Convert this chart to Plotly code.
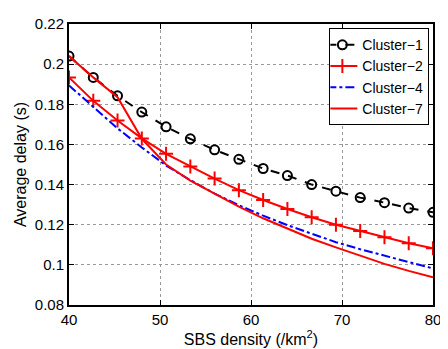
import plotly.graph_objects as go

x = [40 + i * 40 / 15 for i in range(16)]

cluster1 = [0.2040, 0.1934, 0.1842, 0.1761, 0.1688, 0.1628, 0.1573, 0.1526,
            0.1480, 0.1445, 0.1400, 0.1367, 0.1335, 0.1310, 0.1283, 0.1262]
cluster2 = [0.1934, 0.1817, 0.1719, 0.1630, 0.1553, 0.1490, 0.1430, 0.1372,
            0.1323, 0.1278, 0.1237, 0.1200, 0.1169, 0.1137, 0.1108, 0.1083]
cluster4 = [0.1894, 0.1785, 0.1680, 0.1585, 0.1495, 0.1422, 0.1355, 0.1297,
            0.1245, 0.1198, 0.1155, 0.1113, 0.1078, 0.1045, 0.1012, 0.0982]
cluster7 = [0.2040, 0.1934, 0.1835, 0.1628, 0.1500, 0.1420, 0.1355, 0.1290,
            0.1232, 0.1180, 0.1130, 0.1087, 0.1045, 0.1005, 0.0970, 0.0938]

x_ticks = [40, 50, 60, 70, 80]
y_ticks = [0.08, 0.10, 0.12, 0.14, 0.16, 0.18, 0.20, 0.22]
y_tick_labels = ["0.08", "0.1", "0.12", "0.14", "0.16", "0.18", "0.2", "0.22"]

fig = go.Figure()
fig.add_trace(go.Scatter(
    x=x, y=cluster1, name="Cluster\u22121", mode="lines+markers",
    line=dict(color="black", width=2, dash="dash"),
    marker=dict(symbol="circle-open", size=9, color="black", line=dict(width=2))))
fig.add_trace(go.Scatter(
    x=x, y=cluster2, name="Cluster\u22122", mode="lines+markers",
    line=dict(color="#ff0000", width=2),
    marker=dict(symbol="cross-thin", size=10, color="#ff0000", line=dict(width=2, color="#ff0000"))))
fig.add_trace(go.Scatter(
    x=x, y=cluster4, name="Cluster\u22124", mode="lines",
    line=dict(color="#0000ff", width=2, dash="dashdot")))
fig.add_trace(go.Scatter(
    x=x, y=cluster7, name="Cluster\u22127", mode="lines",
    line=dict(color="#ff0000", width=2)))

axis_common = dict(
    showline=True, linecolor="black", linewidth=2, mirror="ticks",
    ticks="inside", ticklen=5, tickcolor="black", tickwidth=1,
    showgrid=True, gridcolor="#999999", griddash="dot", gridwidth=1,
    zeroline=False, tickfont=dict(size=15, color="black"),
)

fig.update_xaxes(range=[40, 80], tickvals=x_ticks,
                 title=dict(text="SBS density (/km<sup>2</sup>)", font=dict(size=16, color="black"), standoff=2),
                 **axis_common)
fig.update_yaxes(range=[0.08, 0.22], tickvals=y_ticks, ticktext=y_tick_labels,
                 title=dict(text="Average delay (s)", font=dict(size=16, color="black"), standoff=4),
                 **axis_common)

# page body has an 8px default margin, so the figure is sized for the remaining area
fig.update_layout(
    width=440, height=341,
    margin=dict(l=61, r=7, t=9, b=44),
    plot_bgcolor="white", paper_bgcolor="white",
    font=dict(family="Liberation Sans, Arial, sans-serif", color="black"),
    legend=dict(x=0.99, y=0.985, xanchor="right", yanchor="top",
                bgcolor="white", bordercolor="black", borderwidth=1,
                font=dict(size=14), tracegroupgap=0, itemwidth=30,
                indentation=-8),
    showlegend=True,
)

fig.write_html("out.html")
